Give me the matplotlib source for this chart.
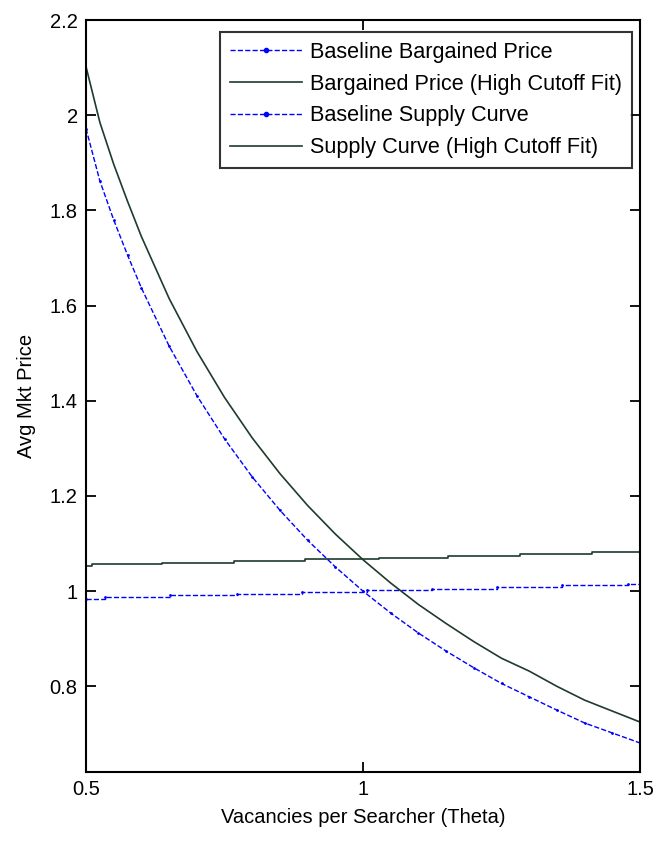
import numpy as np
import matplotlib
matplotlib.use("Agg")
import matplotlib.pyplot as plt
from matplotlib.lines import Line2D

plt.rcParams['font.family'] = ['Liberation Sans', 'DejaVu Sans']

# theta grid and supply curves
theta = [0.50, 0.525, 0.55, 0.575, 0.60, 0.65, 0.70, 0.75, 0.80, 0.85, 0.90, 0.95, 1.00,
         1.05, 1.10, 1.15, 1.20, 1.25, 1.30, 1.35, 1.40, 1.45, 1.50]
supply_base = [1.972, 1.862, 1.780, 1.706, 1.637, 1.515, 1.411, 1.320, 1.240, 1.170, 1.107, 1.051, 1.000,
               0.954, 0.912, 0.874, 0.839, 0.806, 0.778, 0.750, 0.723, 0.702, 0.681]
supply_high = [2.102, 1.985, 1.897, 1.819, 1.745, 1.615, 1.504, 1.407, 1.322, 1.247, 1.180, 1.120, 1.066,
               1.017, 0.972, 0.932, 0.894, 0.859, 0.832, 0.800, 0.771, 0.748, 0.725]

# bargained prices are step shaped
bar_base_x = [0.5, 0.534, 0.652, 0.773, 0.890, 1.007, 1.125, 1.242, 1.359, 1.478, 1.5]
bar_base_y = [0.984, 0.988, 0.991, 0.995, 0.998, 1.002, 1.005, 1.009, 1.012, 1.016, 1.016]
bar_high_x = [0.5, 0.510, 0.638, 0.767, 0.895, 1.028, 1.154, 1.283, 1.413, 1.5]
bar_high_y = [1.053, 1.056, 1.060, 1.063, 1.067, 1.070, 1.074, 1.078, 1.082, 1.082]

labels = ['Baseline Bargained Price', 'Bargained Price (High Cutoff Fit)',
          'Baseline Supply Curve', 'Supply Curve (High Cutoff Fit)']

blue = '#0000ff'
green = '#1e3b2b'

fig = plt.figure(figsize=(6.6, 8.44), dpi=100)
ax = fig.add_axes([86/660, 72/844, 554/660, 752/844])

ax.plot(bar_base_x, bar_base_y, drawstyle='steps-post', color=blue, ls='--', lw=1.0,
        marker='.', markersize=2)
ax.plot(bar_high_x, bar_high_y, drawstyle='steps-post', color=green, ls='-', lw=1.2)
ax.plot(theta, supply_base, color=blue, ls='--', lw=1.0, marker='.', markersize=2)
ax.plot(theta, supply_high, color=green, ls='-', lw=1.2)

ax.set_xlim(0.5, 1.5)
ax.set_ylim(0.62, 2.2)
ax.set_xticks([0.5, 1, 1.5])
ax.set_xticklabels(['0.5', '1', '1.5'])
yt = [0.8, 1.0, 1.2, 1.4, 1.6, 1.8, 2.0, 2.2]
ax.set_yticks(yt)
ax.set_yticklabels(['0.8', '1', '1.2', '1.4', '1.6', '1.8', '2', '2.2'])

ax.tick_params(direction='in', length=7, width=1.3, labelsize=14.5, pad=6,
               top=True, right=True)
for s in ax.spines.values():
    s.set_linewidth(1.5)

ax.set_xlabel('Vacancies per Searcher (Theta)', fontsize=14.5, labelpad=6)
ax.set_ylabel('Avg Mkt Price', fontsize=14.5, labelpad=10)

# legend handles: blue entries show one dot in the middle
handles = [Line2D([], [], color=blue, ls='--', lw=1.0, marker='.', markersize=6),
           Line2D([], [], color=green, ls='-', lw=1.2),
           Line2D([], [], color=blue, ls='--', lw=1.0, marker='.', markersize=6),
           Line2D([], [], color=green, ls='-', lw=1.2)]
leg = ax.legend(handles, labels, loc='upper right', bbox_to_anchor=(0.9856, 0.984),
                borderaxespad=0, fontsize=15.6, fancybox=False, handlelength=3.3,
                handletextpad=0.4, labelspacing=0.5, borderpad=0.45, numpoints=1)
leg.get_frame().set_edgecolor('black')
leg.get_frame().set_linewidth(1.5)

fig.savefig('out.png', dpi=100)
